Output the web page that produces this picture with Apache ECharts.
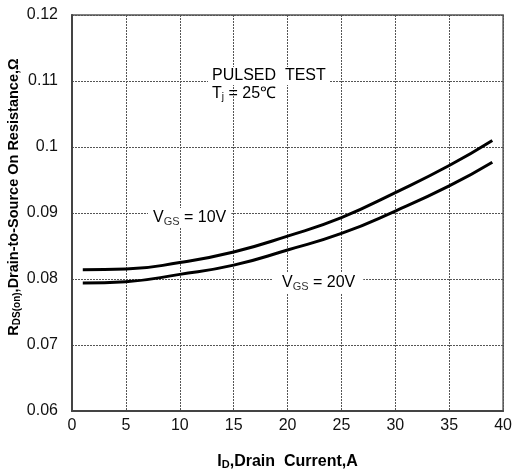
<!DOCTYPE html>
<html>
<head>
<meta charset="utf-8">
<script src="https://cdn.jsdelivr.net/npm/echarts@6/dist/echarts.min.js"></script>
<style>
  html, body { margin: 0; padding: 0; background: #fff; }
  #chart { width: 515px; height: 476px; }
</style>
</head>
<body>
<div id="chart"></div>
<script>
// drain current (A)
var currentA = [1, 5, 10, 15, 20, 25, 30, 35, 39];
// RDS(on) in ohm
var rdsVgs10 = [0.0814, 0.0815, 0.0825, 0.0841, 0.0865, 0.0893, 0.0931, 0.0972, 0.1010];
var rdsVgs20 = [0.0794, 0.0796, 0.0807, 0.0821, 0.0844, 0.0869, 0.0903, 0.0941, 0.0977];

function pairs(xs, ys) {
  var out = [];
  for (var i = 0; i < xs.length; i++) out.push([xs[i], ys[i]]);
  return out;
}

var font = "'Liberation Sans', Arial, sans-serif";
var gridLine = { show: true, lineStyle: { color: "#555", width: 1, type: [2, 1] } };

var myChart = echarts.init(document.getElementById("chart"));
myChart.setOption({
  animation: false,
  grid: {
    left: 72, right: 9, top: 15, bottom: 65,
    show: true, borderColor: "#555", borderWidth: 1.5
  },
  xAxis: {
    type: "value",
    min: 0, max: 40, interval: 5,
    axisLine: { show: true, lineStyle: { color: "#444", width: 2 } },
    axisTick: { show: false },
    splitLine: gridLine,
    axisLabel: { color: "#111", fontSize: 16, fontFamily: font, margin: 7 },
    name: "{b|I}{s|D}{b|,Drain  Current,A}",
    nameLocation: "middle",
    nameGap: 42,
    nameTextStyle: {
      rich: {
        b: { fontSize: 16, fontWeight: "bold", fontFamily: font, color: "#000" },
        s: { fontSize: 11, fontWeight: "bold", fontFamily: font, color: "#000", padding: [6, 0, 0, 0] }
      }
    }
  },
  yAxis: {
    type: "value",
    min: 0.06, max: 0.12, interval: 0.01,
    axisLine: { show: true, lineStyle: { color: "#444", width: 2 } },
    axisTick: { show: false },
    splitLine: gridLine,
    axisLabel: {
      color: "#111", fontSize: 16, fontFamily: font, margin: 14,
      formatter: function (v) { return String(+v.toFixed(2)); }
    }
  },
  graphic: [
    {
      type: "text", x: 14, y: 197, rotation: Math.PI / 2, z: 100,
      style: {
        text: "{b|R}{s|DS(on)}{b|,Drain-to-Source On Resistance,Ω}",
        align: "center", verticalAlign: "middle",
        rich: {
          b: { fontSize: 14.5, fontWeight: "bold", fontFamily: font, fill: "#000" },
          s: { fontSize: 10, fontWeight: "bold", fontFamily: font, fill: "#000", padding: [6, 0, 0, 0] }
        }
      }
    },
    {
      type: "text", x: 208, y: 76, z: 100,
      style: {
        text: "PULSED  TEST", fontSize: 16, fontFamily: font, fill: "#000",
        verticalAlign: "middle", backgroundColor: "#fff", padding: [1, 4, 1, 4]
      }
    },
    {
      type: "text", x: 212, y: 94, z: 100,
      style: {
        text: "{b|T}{s|j}{b| = 25℃}",
        verticalAlign: "middle",
        rich: {
          b: { fontSize: 16, fontFamily: font, fill: "#000" },
          s: { fontSize: 10, fontFamily: font, fill: "#000", padding: [7, 0, 0, 0] }
        }
      }
    },
    {
      type: "text", x: 148, y: 218, z: 100,
      style: {
        text: "{b|V}{s|GS}{b| = 10V}",
        verticalAlign: "middle", backgroundColor: "#fff", padding: [1, 5, 1, 5],
        rich: {
          b: { fontSize: 16, fontFamily: font, fill: "#000" },
          s: { fontSize: 11, fontFamily: font, fill: "#333", padding: [7, 0, 0, 0] }
        }
      }
    },
    {
      type: "text", x: 272, y: 283, z: 100,
      style: {
        text: "{b|V}{s|GS}{b| = 20V}",
        verticalAlign: "middle", backgroundColor: "#fff", padding: [1, 8, 1, 10],
        rich: {
          b: { fontSize: 16, fontFamily: font, fill: "#000" },
          s: { fontSize: 11, fontFamily: font, fill: "#333", padding: [7, 0, 0, 0] }
        }
      }
    }
  ],
  series: [
    {
      name: "VGS=10V", type: "line", smooth: true, symbol: "none",
      lineStyle: { color: "#000", width: 3 },
      data: pairs(currentA, rdsVgs10)
    },
    {
      name: "VGS=20V", type: "line", smooth: true, symbol: "none",
      lineStyle: { color: "#000", width: 3 },
      data: pairs(currentA, rdsVgs20)
    }
  ]
});
</script>
</body>
</html>
